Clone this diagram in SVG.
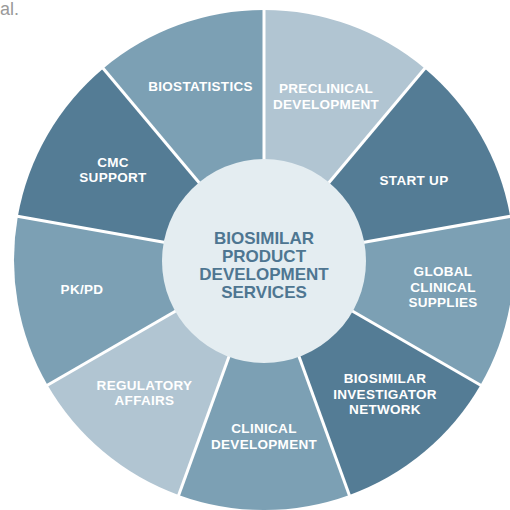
<svg xmlns="http://www.w3.org/2000/svg" width="510" height="510" viewBox="0 0 510 510">
<style>
.light{fill:#b1c5d2}
.mid{fill:#7ca0b4}
.dark{fill:#547c95}
.lbl{font-family:"Liberation Sans",Arial,sans-serif;font-weight:bold;font-size:13.5px;letter-spacing:0.3px;fill:#ffffff;text-anchor:middle}
.ctr{font-family:"Liberation Sans",Arial,sans-serif;font-weight:bold;font-size:17px;fill:#4e7691;text-anchor:middle}
.sep{stroke:#ffffff;stroke-width:3;fill:none}
</style>
<rect width="510" height="510" fill="#ffffff"/>
<text x="0" y="15" font-family="'Liberation Sans',Arial,sans-serif" font-size="18" fill="#9a9a9a">al.</text>

<g id="preclinical">
<path class="light" d="M264 260 L264 10 A250 250 0 0 1 424.70 68.49 Z"/>
<text class="lbl" x="326" y="93">PRECLINICAL</text>
<text class="lbl" x="326" y="109">DEVELOPMENT</text>
</g>
<g id="startup">
<path class="dark" d="M264 260 L424.70 68.49 A250 250 0 0 1 510.20 216.59 Z"/>
<text class="lbl" x="414" y="185">START UP</text>
</g>
<g id="global">
<path class="mid" d="M264 260 L510.20 216.59 A250 250 0 0 1 480.51 385 Z"/>
<text class="lbl" x="443" y="276">GLOBAL</text>
<text class="lbl" x="443" y="292">CLINICAL</text>
<text class="lbl" x="443" y="307">SUPPLIES</text>
</g>
<g id="investigator">
<path class="dark" d="M264 260 L480.51 385 A250 250 0 0 1 349.51 494.92 Z"/>
<text class="lbl" x="385" y="383">BIOSIMILAR</text>
<text class="lbl" x="385" y="399">INVESTIGATOR</text>
<text class="lbl" x="385" y="414">NETWORK</text>
</g>
<g id="clinical">
<path class="mid" d="M264 260 L349.51 494.92 A250 250 0 0 1 178.49 494.92 Z"/>
<text class="lbl" x="264" y="433">CLINICAL</text>
<text class="lbl" x="264" y="449">DEVELOPMENT</text>
</g>
<g id="regulatory">
<path class="light" d="M264 260 L178.49 494.92 A250 250 0 0 1 47.49 385 Z"/>
<text class="lbl" x="144.5" y="390">REGULATORY</text>
<text class="lbl" x="144.5" y="405">AFFAIRS</text>
</g>
<g id="pkpd">
<path class="mid" d="M264 260 L47.49 385 A250 250 0 0 1 17.80 216.59 Z"/>
<text class="lbl" x="82" y="294">PK/PD</text>
</g>
<g id="cmc">
<path class="dark" d="M264 260 L17.80 216.59 A250 250 0 0 1 103.30 68.49 Z"/>
<text class="lbl" x="113" y="167">CMC</text>
<text class="lbl" x="113" y="182">SUPPORT</text>
</g>
<g id="biostatistics">
<path class="mid" d="M264 260 L103.30 68.49 A250 250 0 0 1 264 10 Z"/>
<text class="lbl" x="200.5" y="91">BIOSTATISTICS</text>
</g>

<g id="connectors">
<line class="sep" x1="264" y1="260" x2="264" y2="8"/>
<line class="sep" x1="264" y1="260" x2="426" y2="67"/>
<line class="sep" x1="264" y1="260" x2="512" y2="216"/>
<line class="sep" x1="264" y1="260" x2="482" y2="386"/>
<line class="sep" x1="264" y1="260" x2="350" y2="497"/>
<line class="sep" x1="264" y1="260" x2="178" y2="497"/>
<line class="sep" x1="264" y1="260" x2="46" y2="386"/>
<line class="sep" x1="264" y1="260" x2="16" y2="216"/>
<line class="sep" x1="264" y1="260" x2="102" y2="67"/>
</g>

<g id="center">
<circle cx="264" cy="261" r="102" fill="#e4edf1"/>
<text class="ctr" x="264" y="244">BIOSIMILAR</text>
<text class="ctr" x="264" y="262">PRODUCT</text>
<text class="ctr" x="264" y="280">DEVELOPMENT</text>
<text class="ctr" x="264" y="298">SERVICES</text>
</g>
</svg>
